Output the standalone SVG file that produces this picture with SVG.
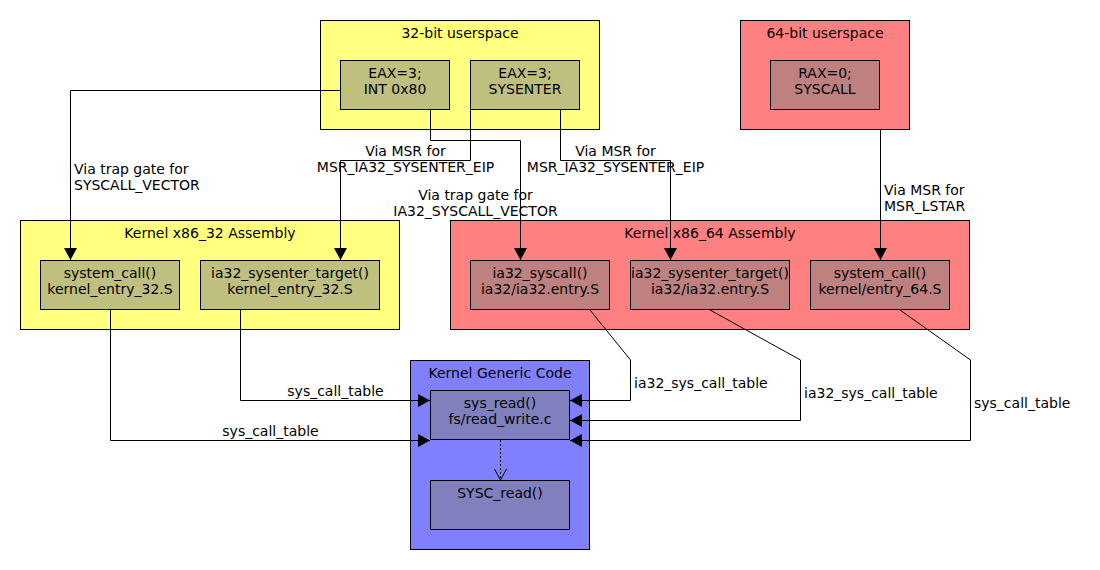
<svg xmlns="http://www.w3.org/2000/svg" width="1100" height="570" viewBox="0 0 1100 570">
  <style>
    text { font-family: "DejaVu Sans", "Liberation Sans", sans-serif; font-size: 14px; fill: #000; }
    .c { text-anchor: middle; }
    .box { stroke: #000; stroke-width: 1; }
    .yc { fill: #ffff80; }
    .yn { fill: #bfbf80; }
    .rc { fill: #ff8080; }
    .rn { fill: #bf8080; }
    .bc { fill: #8080ff; }
    .bn { fill: #8080bf; }
    .edge { fill: none; stroke: #000; stroke-width: 1; }
    .dot { stroke-dasharray: 2,2; }
  </style>
  <defs>
    <marker id="arrow" markerUnits="userSpaceOnUse" markerWidth="13" markerHeight="13" refX="12" refY="6.5" orient="auto" overflow="visible">
      <path d="M0,0 L12,6.5 L0,13 z" fill="#000"/>
    </marker>
    <marker id="vee" markerUnits="userSpaceOnUse" markerWidth="13" markerHeight="13" refX="11" refY="6" orient="auto" overflow="visible">
      <path d="M0,0 L11,6 L0,12" fill="none" stroke="#000" stroke-width="1"/>
    </marker>
  </defs>

  <g id="userspace32">
    <rect class="box yc" x="320.5" y="20.5" width="279" height="109"/>
    <text class="c" x="460" y="38">32-bit userspace</text>
  </g>
  <g id="int80">
    <rect class="box yn" x="340.5" y="60.5" width="109" height="49"/>
    <text class="c" x="395" y="78">EAX=3;</text>
    <text class="c" x="395" y="94">INT 0x80</text>
  </g>
  <g id="sysenter">
    <rect class="box yn" x="470.5" y="60.5" width="109" height="49"/>
    <text class="c" x="525" y="78">EAX=3;</text>
    <text class="c" x="525" y="94">SYSENTER</text>
  </g>

  <g id="userspace64">
    <rect class="box rc" x="740.5" y="20.5" width="169" height="109"/>
    <text class="c" x="825" y="38">64-bit userspace</text>
  </g>
  <g id="syscall64user">
    <rect class="box rn" x="770.5" y="60.5" width="109" height="49"/>
    <text class="c" x="825" y="78">RAX=0;</text>
    <text class="c" x="825" y="94">SYSCALL</text>
  </g>

  <g id="kernel32">
    <rect class="box yc" x="20.5" y="220.5" width="379" height="109"/>
    <text class="c" x="210" y="238">Kernel x86_32 Assembly</text>
  </g>
  <g id="system_call32">
    <rect class="box yn" x="40.5" y="260.5" width="139" height="49"/>
    <text class="c" x="110" y="278">system_call()</text>
    <text class="c" x="110" y="294">kernel_entry_32.S</text>
  </g>
  <g id="sysenter_target32">
    <rect class="box yn" x="200.5" y="260.5" width="179" height="49"/>
    <text class="c" x="290" y="278">ia32_sysenter_target()</text>
    <text class="c" x="290" y="294">kernel_entry_32.S</text>
  </g>

  <g id="kernel64">
    <rect class="box rc" x="450.5" y="220.5" width="519" height="109"/>
    <text class="c" x="710" y="238">Kernel x86_64 Assembly</text>
  </g>
  <g id="ia32_syscall">
    <rect class="box rn" x="470.5" y="260.5" width="139" height="49"/>
    <text class="c" x="540" y="278">ia32_syscall()</text>
    <text class="c" x="540" y="294">ia32/ia32.entry.S</text>
  </g>
  <g id="sysenter_target64">
    <rect class="box rn" x="630.5" y="260.5" width="159" height="49"/>
    <text class="c" x="710" y="278">ia32_sysenter_target()</text>
    <text class="c" x="710" y="294">ia32/ia32.entry.S</text>
  </g>
  <g id="system_call64">
    <rect class="box rn" x="810.5" y="260.5" width="139" height="49"/>
    <text class="c" x="880" y="278">system_call()</text>
    <text class="c" x="880" y="294">kernel/entry_64.S</text>
  </g>

  <g id="generic">
    <rect class="box bc" x="410.5" y="360.5" width="179" height="189"/>
    <text class="c" x="500" y="378">Kernel Generic Code</text>
  </g>
  <g id="sys_read">
    <rect class="box bn" x="430.5" y="390.5" width="139" height="49"/>
    <text class="c" x="500" y="408">sys_read()</text>
    <text class="c" x="500" y="424">fs/read_write.c</text>
  </g>
  <g id="sysc_read">
    <rect class="box bn" x="430.5" y="480.5" width="139" height="49"/>
    <text class="c" x="500" y="498">SYSC_read()</text>
  </g>

  <g id="connectors">
    <path class="edge" d="M340,90.5 H70.5 V260" marker-end="url(#arrow)"/>
    <path class="edge" d="M430.5,110 V140.5 H520.5 V260" marker-end="url(#arrow)"/>
    <path class="edge" d="M470.5,110 V160.5 H340.5 V260" marker-end="url(#arrow)"/>
    <path class="edge" d="M560.5,110 V160.5 H670.5 V260" marker-end="url(#arrow)"/>
    <path class="edge" d="M880.5,130 V260" marker-end="url(#arrow)"/>
    <path class="edge" d="M110.5,310 V440.5 H430" marker-end="url(#arrow)"/>
    <path class="edge" d="M240.5,310 V400.5 H430" marker-end="url(#arrow)"/>
    <path class="edge" d="M590,310 L630.5,360 V400.5 H570" marker-end="url(#arrow)"/>
    <path class="edge" d="M710,310 L800.5,360 V420.5 H570" marker-end="url(#arrow)"/>
    <path class="edge" d="M900,310 L970.5,360 V440.5 H570" marker-end="url(#arrow)"/>
    <path class="edge dot" d="M500.5,440 V480" marker-end="url(#vee)"/>

    <text x="74" y="174">Via trap gate for</text>
    <text x="74" y="190">SYSCALL_VECTOR</text>
    <text class="c" x="405.5" y="156">Via MSR for</text>
    <text class="c" x="405.5" y="172">MSR_IA32_SYSENTER_EIP</text>
    <text class="c" x="615.5" y="156">Via MSR for</text>
    <text class="c" x="615.5" y="172">MSR_IA32_SYSENTER_EIP</text>
    <text class="c" x="475.5" y="200">Via trap gate for</text>
    <text class="c" x="475.5" y="216">IA32_SYSCALL_VECTOR</text>
    <text x="884" y="195">Via MSR for</text>
    <text x="884" y="211">MSR_LSTAR</text>
    <text class="c" x="335.5" y="396">sys_call_table</text>
    <text class="c" x="270.5" y="436">sys_call_table</text>
    <text x="634" y="388">ia32_sys_call_table</text>
    <text x="804" y="398">ia32_sys_call_table</text>
    <text x="974" y="408">sys_call_table</text>
  </g>
</svg>
